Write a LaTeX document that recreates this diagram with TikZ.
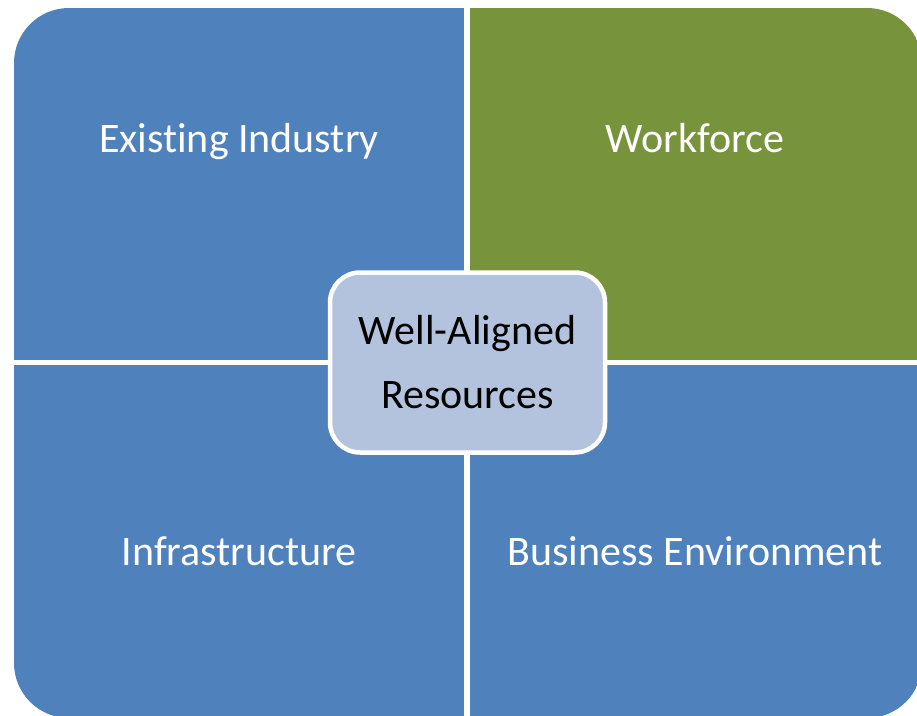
\documentclass[tikz,border=0pt]{standalone}
\usepackage{fontspec}
\setmainfont{Carlito}[Ligatures=NoCommon]
\definecolor{quadblue}{HTML}{4F81BD}
\definecolor{quadgreen}{HTML}{77933C}
\definecolor{hubfill}{HTML}{B3C3DE}
\tikzset{
  quad/.style={rectangle, inner sep=0pt, minimum width=452pt, minimum height=353pt},
  lbl/.style={anchor=base, text=white, inner sep=0pt, font=\fontsize{42}{50}\selectfont},
  hub/.style={rectangle, rounded corners=30pt, draw=white, line width=4.5pt, fill=hubfill,
    minimum width=275pt, minimum height=180pt, align=center, font=\fontsize{42}{64}\selectfont}
}
\begin{document}
\begin{tikzpicture}[x=1pt,y=-1pt]
\useasboundingbox (0,0) rectangle (917,715);
\begin{scope}
\clip[rounded corners=55pt] (14,8) rectangle (922,718);
\node[quad, fill=quadblue, minimum width=450pt, minimum height=352pt] (ind) at (239,184) {};
\node[quad, fill=quadgreen, minimum height=352pt] (work) at (696,184) {};
\node[quad, fill=quadblue, minimum width=450pt] (infra) at (239,541.5) {};
\node[quad, fill=quadblue] (biz) at (696,541.5) {};
\end{scope}
\node[lbl] (indtext) at (239,152) {Existing Industry};
\node[lbl] (worktext) at (695,152) {Workforce};
\node[lbl] (infratext) at (239,565) {Infrastructure};
\node[lbl] (biztext) at (695,565) {Business Environment};
\node[hub] (res) at (467.5,362.5) {Well-Aligned\\Resources};
\end{tikzpicture}
\end{document}
